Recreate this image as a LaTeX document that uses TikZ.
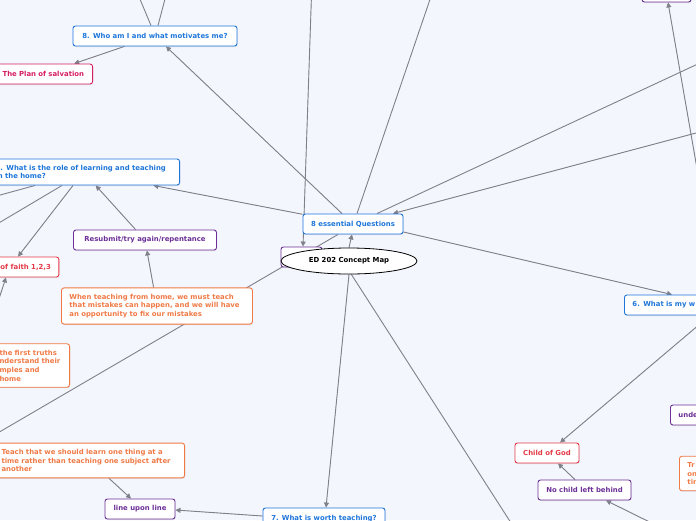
\documentclass[tikz,border=0pt]{standalone}
\usepackage{fontspec}
\setmainfont{DejaVu Sans}
\usetikzlibrary{arrows.meta,shapes.geometric,shadows}
\definecolor{mapbg}{RGB}{243,246,253}
\definecolor{qblue}{RGB}{30,118,218}
\definecolor{mpink}{RGB}{214,30,98}
\definecolor{mred}{RGB}{228,58,72}
\definecolor{mpurple}{RGB}{108,48,150}
\definecolor{morange}{RGB}{240,122,70}
\definecolor{lgray}{RGB}{128,128,138}
\pgfdeclarelayer{bg}
\pgfdeclarelayer{links}
\pgfsetlayers{bg,links,main}

\begin{document}
\begin{tikzpicture}[x=1pt,y=-1pt,font=\fontsize{6.9}{8.7}\selectfont\bfseries,
  >={Triangle[length=5pt,width=5pt]},
  box/.style={draw,rounded corners=2.5pt,line width=0.9pt,fill=white,inner xsep=8pt,inner ysep=6pt,
    minimum height=20pt,drop shadow={shadow xshift=0.5pt,shadow yshift=-1pt,opacity=0.18}},
  qbox/.style={box,draw=qblue,text=qblue},
  pbox/.style={box,draw=mpink,text=mpink},
  rbox/.style={box,draw=mred,text=mred},
  vbox/.style={box,draw=mpurple,text=mpurple},
  obox/.style={box,draw=morange,text=morange},
  ln/.style={draw=lgray,line width=0.9pt},
  arr/.style={ln,->,fill=lgray}]
\useasboundingbox (0,0) rectangle (696,520);
\begin{pgfonlayer}{bg}
\fill[mapbg] (0,0) rectangle (696,520);
\end{pgfonlayer}
% centre
\node[vbox,minimum width=41pt,inner sep=0pt] (hid) at (301.5,257) {};
\node[draw=black,fill=white,ellipse,minimum width=136pt,minimum height=26pt,inner sep=0pt,line width=0.8pt] (ed) at (349,261) {ED 202 Concept Map};
\node[qbox,minimum width=100pt] (ess) at (353,224) {8 essential Questions};
% questions
\node[qbox,minimum width=164pt] (who) at (155,36) {8. Who am I and what motivates me?};
\node[qbox,anchor=east,text width=176pt,align=left] (role) at (180,172) {2. What is the role of learning and teaching\\in the home?};
\node[qbox,anchor=west,text width=130pt,align=left] (six) at (624,305) {6. What is my w};
\node[qbox,minimum width=122pt,minimum height=22pt] (worth) at (324,519) {7. What is worth teaching?};
% answers
\node[pbox,anchor=east,text width=82pt,align=left] (plan) at (93,74) {The Plan of salvation};
\node[vbox,minimum width=143pt] (resub) at (145,240) {Resubmit/try again/repentance};
\node[rbox,anchor=west,align=left] (faith) at (-8,267) {of faith 1,2,3};
\node[obox,anchor=west,text width=175pt,align=left] (when) at (61,306) {When teaching from home, we must teach\\that mistakes can happen, and we will have\\an opportunity to fix our mistakes};
\node[obox,anchor=east,text width=62pt,align=left] (truths) at (70,365.5) {the first truths\\nderstand their\\mples and\\home};
\node[obox,anchor=east,text width=175pt,align=left] (teach) at (185,460.5) {Teach that we should learn one thing at a\\time rather than teaching one subject after\\another};
\node[vbox,minimum width=70pt] (line) at (140,509) {line upon line};
\node[vbox,anchor=west,text width=60pt,align=left] (unde) at (670,415) {unde};
\node[obox,anchor=west,text width=60pt,align=left] (tr) at (679,473.5) {Tr\\on\\tin};
\node[rbox,minimum width=64pt] (child) at (547,453) {Child of God};
\node[vbox,minimum width=93pt] (nochild) at (584.5,490) {No child left behind};
\node[vbox,minimum width=49pt] (topr) at (666.5,-8) {};
% off-map ends
\coordinate (t1) at (132,-20);
\coordinate (t2) at (170,-20);
\coordinate (t3) at (312,-20);
\coordinate (t4) at (440,-30);
\coordinate (r1) at (760,35);
\coordinate (r2) at (760,116);
\coordinate (l1) at (-40,206);
\coordinate (l2) at (-40,246);
\coordinate (l3) at (-10,326);
\coordinate (l4) at (-40,455);
\coordinate (b1) at (686,540);
\coordinate (b2) at (522,540);
% links
\begin{pgfonlayer}{links}
\draw[arr] (ess) -- (who);
\draw[arr] (who) -- (plan);
\draw[ln] (who.north -| 151,0) -- (t1);
\draw[ln] (who.north -| 158,0) -- (t2);
\draw[arr] (ess) -- (role);
\draw[arr] (resub) -- (role);
\draw[arr] (when) -- (resub);
\draw[arr] (role.south -| 73,0) -- (faith.north -| 18,0);
\draw[ln] (role.south -| 35,0) -- (l1);
\draw[ln] (role.south -| 62,0) -- (l2);
\draw[arr] (l3) -- (faith.south -| 6,0);
\draw[ln] (l4) -- (ess.south -| 338,0);
\draw[arr] (t3) -- (hid.north -| 303,0);
\draw[arr] (ed.north) -- (ess.south -| 352,0);
\draw[ln] (ess.north -| 357,0) -- (t4);
\draw[ln] (ess.north -| 377,0) -- (r1);
\draw[arr] (r2) -- (ess.north -| 393,0);
\draw[arr] (ess.east |- 0,232) -- (six.north -| 672,0);
\draw[arr] (six.south -| 710,0) -- (child.north -| 560,0);
\draw[arr] (six.north -| 719,0) -- (topr.south -| 668,0);
\draw[arr] (nochild.north -| 575,0) -- (child.south -| 558,0);
\draw[arr] (b1) -- (nochild.south -| 606,0);
\draw[arr] (ed.south) -- (worth.north -| 326,0);
\draw[ln] (ed.-80) -- (b2);
\draw[arr] (worth.west |- 0,516) -- (line.east |- 0,510);
\draw[arr] (teach.south -| 109,0) -- (line.north -| 131,0);
\end{pgfonlayer}
\end{tikzpicture}
\end{document}
